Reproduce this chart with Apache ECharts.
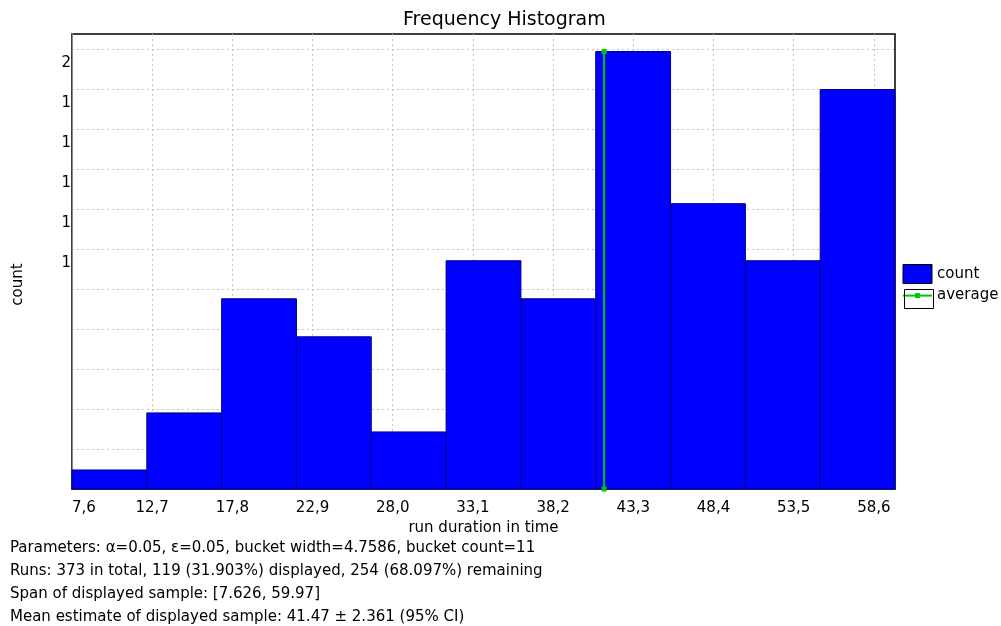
<!DOCTYPE html>
<html>
<head>
<meta charset="utf-8">
<script src="https://cdn.jsdelivr.net/npm/echarts@6/dist/echarts.min.js"></script>
<style>
html,body{margin:0;padding:0;background:#fff;}
#chart{width:1001px;height:626px;}
</style>
</head>
<body>
<div id="chart"></div>
<script>
// ---- data ----
const bucketEdges = [7.626, 12.385, 17.143, 21.902, 26.660, 31.419, 36.178, 40.936, 45.695, 50.453, 55.212, 59.970];
const counts = [1, 4, 10, 8, 3, 12, 10, 23, 15, 12, 21];
const averageValue = 41.47;
const averageSpan = [0, 23];
const xTickLabels = ['7,6', '12,7', '17,8', '22,9', '28,0', '33,1', '38,2', '43,3', '48,4', '53,5', '58,6'];
const yTickLabels = ['', '', '', '', '', '', '1', '1', '1', '1', '1', '2'];
const infoLines = [
  'Parameters: \u03b1=0.05, \u03b5=0.05, bucket width=4.7586, bucket count=11',
  'Runs: 373 in total, 119 (31.903%) displayed, 254 (68.097%) remaining',
  'Span of displayed sample: [7.626, 59.97]',
  'Mean estimate of displayed sample: 41.47 \u00b1 2.361 (95% CI)'
];

const FONT = 'DejaVu Sans';
const xMin = 7.626, xMax = 59.97, xStep = 5.1;
const yMax = 23.92, yStep = 2.1;
// small square marker inside a larger (invisible) bounding box
const MARKER = 'path://M0 0L0 0M12 12L12 12M4 4L8 4L8 8L4 8Z';

const chart = echarts.init(document.getElementById('chart'), null, {renderer: 'canvas'});
chart.setOption({
  animation: false,
  backgroundColor: '#fff',
  textStyle: {fontFamily: FONT},
  title: [
    {text: 'Frequency Histogram', left: 403, top: 11, padding: 0,
     textStyle: {fontFamily: FONT, fontSize: 19, fontWeight: 'normal', color: '#000'}},
    {text: infoLines.join('\n'), left: 10, top: 537, padding: 0,
     textStyle: {fontFamily: FONT, fontSize: 15, fontWeight: 'normal', color: '#000', lineHeight: 23}}
  ],
  grid: {left: 72, right: 106, top: 34, bottom: 137, show: true, borderColor: '#000', borderWidth: 1.5, backgroundColor: '#fff'},
  legend: {
    orient: 'vertical', left: 902, top: 264, padding: 0, itemGap: 4,
    itemWidth: 29, itemHeight: 19,
    textStyle: {fontFamily: FONT, fontSize: 15, color: '#000'},
    data: [
      {name: 'count', icon: 'rect', itemStyle: {color: '#0000ff', borderColor: '#000', borderWidth: 1}},
      {name: 'average'}
    ]
  },
  xAxis: {
    type: 'value', min: xMin, max: xMax, interval: xStep,
    name: 'run duration in time', nameLocation: 'middle', nameGap: 28,
    nameTextStyle: {fontFamily: FONT, fontSize: 15, color: '#000'},
    axisLine: {show: true, onZero: false, lineStyle: {color: '#333', width: 2}},
    axisTick: {show: false},
    splitLine: {show: true, showMinLine: false, showMaxLine: false, lineStyle: {color: '#c4c4c4', type: [2, 3], width: 1}},
    axisLabel: {
      fontFamily: FONT, fontSize: 15, color: '#000', margin: 12,
      showMaxLabel: false, alignMinLabel: 'left',
      formatter: function (v) {
        const i = Math.round((v - xMin) / xStep);
        return xTickLabels[i] !== undefined && Math.abs(v - (xMin + i * xStep)) < 1e-6 ? xTickLabels[i] : '';
      }
    }
  },
  yAxis: {
    type: 'value', min: 0, max: yMax, interval: yStep,
    name: 'count', nameLocation: 'middle', nameGap: 46, nameRotate: 90,
    nameTextStyle: {fontFamily: FONT, fontSize: 15, color: '#000', padding: [0, 46, 0, 0]},
    axisLine: {show: true, lineStyle: {color: '#888', width: 1}},
    axisTick: {show: false},
    splitLine: {show: true, showMinLine: false, showMaxLine: false, lineStyle: {color: '#c4c4c4', type: [2, 3], width: 1}},
    axisLabel: {
      fontFamily: FONT, fontSize: 15, color: '#000', margin: 1,
      verticalAlign: 'top', padding: [6, 0, 0, 0], showMaxLabel: false,
      formatter: function (v) {
        const i = Math.round(v / yStep);
        return Math.abs(v - i * yStep) < 1e-6 && yTickLabels[i] !== undefined ? yTickLabels[i] : '';
      }
    }
  },
  series: [
    {
      name: 'count', type: 'custom',
      itemStyle: {color: '#0000ff'},
      encode: {x: [0, 1], y: 2},
      data: counts.map(function (c, i) { return [bucketEdges[i], bucketEdges[i + 1], c]; }),
      renderItem: function (params, api) {
        const p0 = api.coord([api.value(0), api.value(2)]);
        const p1 = api.coord([api.value(1), 0]);
        return {
          type: 'rect',
          shape: {x: p0[0], y: p0[1], width: p1[0] - p0[0], height: p1[1] - p0[1]},
          style: {fill: '#0000ff', stroke: '#000080', lineWidth: 1}
        };
      }
    },
    {
      name: 'average', type: 'line',
      data: [[averageValue, averageSpan[0]], [averageValue, averageSpan[1]]],
      symbol: MARKER, symbolSize: 15, showSymbol: true,
      lineStyle: {color: '#00c800', width: 2},
      itemStyle: {color: '#00c800'},
      z: 5
    }
  ],
  graphic: [
    {type: 'rect', left: 902, top: 287, shape: {width: 29, height: 19}, style: {fill: 'none', stroke: '#000', lineWidth: 1}, z: 100}
  ]
});
</script>
</body>
</html>
